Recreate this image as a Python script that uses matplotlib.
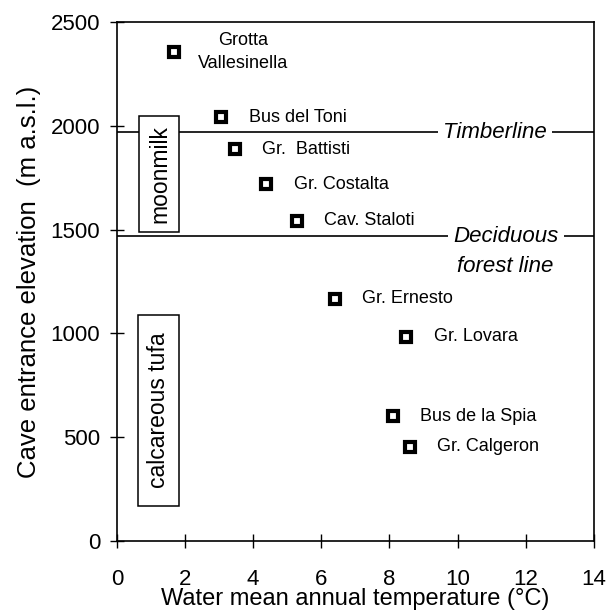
import matplotlib
matplotlib.use("Agg")
import matplotlib.pyplot as plt
from matplotlib.patches import Rectangle

plt.rcParams['font.family'] = ['Liberation Sans', 'DejaVu Sans']

# Data
caves = ["Grotta\nVallesinella", "Bus del Toni", "Gr.  Battisti", "Gr. Costalta",
         "Cav. Staloti", "Gr. Ernesto", "Gr. Lovara", "Bus de la Spia", "Gr. Calgeron"]
temperature = [1.67, 3.07, 3.46, 4.39, 5.29, 6.40, 8.50, 8.11, 8.60]
elevation = [2357, 2041, 1887, 1718, 1543, 1166, 984, 602, 454]

timberline = 1968
deciduous_line = 1469
xticks = [0, 2, 4, 6, 8, 10, 12, 14]
yticks = [0, 500, 1000, 1500, 2000, 2500]

fig = plt.figure(figsize=(6.09, 6.13), dpi=100)
ax = fig.add_axes([0.192, 0.1174, 0.783, 0.8467])

ax.set_xlim(0, 14)
ax.set_ylim(0, 2500)
ax.set_xticks(xticks)
ax.set_yticks(yticks)
ax.tick_params(axis='both', direction='inout', length=10, width=1.0, labelsize=16)
ax.tick_params(axis='y', pad=7)
ax.tick_params(axis='x', pad=15)
for s in ax.spines.values():
    s.set_linewidth(1.2)

# vegetation lines
ax.axhline(timberline, color='black', lw=1.2, zorder=1)
ax.axhline(deciduous_line, color='black', lw=1.2, zorder=1)
ax.text(11.1, timberline, "Timberline", style='italic', fontsize=16, ha='center', va='center',
        bbox=dict(facecolor='white', edgecolor='none', pad=4), zorder=2)
ax.text(11.42, deciduous_line, "Deciduous", style='italic', fontsize=16, ha='center', va='center',
        bbox=dict(facecolor='white', edgecolor='none', pad=4), zorder=2)
ax.text(11.4, deciduous_line - 148, "forest line", style='italic', fontsize=16, ha='center', va='center',
        zorder=2)

# boxed labels
ax.add_patch(Rectangle((0.65, 1488), 1.17, 559, facecolor='white', edgecolor='black', lw=1.1, zorder=3))
ax.text(1.25, 1767, "moonmilk", rotation=90, fontsize=16.5, ha='center', va='center', zorder=4)
ax.add_patch(Rectangle((0.61, 169), 1.21, 920, facecolor='white', edgecolor='black', lw=1.1, zorder=3))
ax.text(1.23, 629, "calcareous tufa", rotation=90, fontsize=16.5, ha='center', va='center', zorder=4)

# points
ax.plot(temperature, elevation, linestyle='none', marker='s', markersize=7.2,
        markerfacecolor='white', markeredgecolor='black', markeredgewidth=3.0, zorder=5)

for name, t, e in zip(caves, temperature, elevation):
    if "\n" in name:
        ax.annotate(name, (t, e), xytext=(50, 0), textcoords='offset points',
                    ha='center', va='center', fontsize=13, linespacing=1.45)
    else:
        ax.annotate(name, (t, e), xytext=(19.5, 0), textcoords='offset points',
                    ha='left', va='center', fontsize=13)

ax.set_xlabel("Water mean annual temperature (°C)", fontsize=17, labelpad=-1)
ax.set_ylabel("Cave entrance elevation  (m a.s.l.)", fontsize=18.5, labelpad=7)

fig.savefig("out.png", dpi=100)
